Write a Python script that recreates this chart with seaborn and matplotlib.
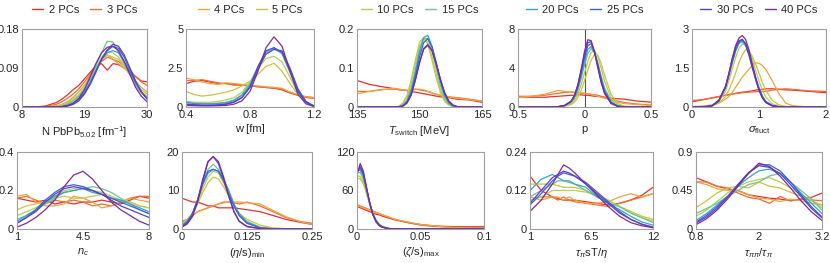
import numpy as np
import pandas as pd
import matplotlib
matplotlib.use("Agg")
import matplotlib.pyplot as plt
import seaborn as sns
from matplotlib.lines import Line2D
from matplotlib.ticker import AutoMinorLocator

# ---- data ----
pcs = ["2 PCs", "3 PCs", "4 PCs", "5 PCs", "10 PCs", "15 PCs", "20 PCs", "25 PCs", "30 PCs", "40 PCs"]
colors = ["#e5322d", "#ef6b36", "#eca53d", "#cdc241", "#b3cf55", "#6ec391",
          "#36a4c6", "#3b5fe0", "#5642c9", "#7e2aa0"]

# N PbPb
n_x = [8, 10, 12, 14, 15, 16, 17, 18, 19, 20, 21, 22, 23, 24, 25, 26, 27, 28, 29, 30]
n_y = [
    [0, 0, 0.002, 0.01, 0.018, 0.028, 0.04, 0.05, 0.065, 0.08, 0.095, 0.1, 0.085, 0.1, 0.098, 0.09, 0.08, 0.07, 0.06, 0.058],
    [0, 0, 0.001, 0.006, 0.012, 0.02, 0.03, 0.042, 0.058, 0.075, 0.09, 0.105, 0.115, 0.11, 0.105, 0.095, 0.085, 0.07, 0.058, 0.05],
    [0, 0, 0, 0.003, 0.006, 0.012, 0.022, 0.035, 0.05, 0.07, 0.09, 0.11, 0.12, 0.11, 0.1, 0.09, 0.075, 0.06, 0.045, 0.035],
    [0, 0, 0, 0.002, 0.005, 0.01, 0.02, 0.035, 0.05, 0.07, 0.09, 0.11, 0.12, 0.115, 0.11, 0.095, 0.075, 0.055, 0.04, 0.03],
    [0, 0, 0, 0.001, 0.003, 0.008, 0.016, 0.028, 0.045, 0.065, 0.09, 0.115, 0.13, 0.125, 0.115, 0.095, 0.075, 0.05, 0.035, 0.025],
    [0, 0, 0, 0, 0.002, 0.006, 0.014, 0.025, 0.042, 0.065, 0.095, 0.125, 0.152, 0.15, 0.125, 0.1, 0.075, 0.05, 0.032, 0.022],
    [0, 0, 0, 0, 0.001, 0.004, 0.01, 0.02, 0.035, 0.058, 0.085, 0.11, 0.125, 0.13, 0.125, 0.105, 0.08, 0.055, 0.035, 0.02],
    [0, 0, 0, 0, 0.001, 0.003, 0.008, 0.018, 0.032, 0.055, 0.082, 0.11, 0.13, 0.14, 0.135, 0.115, 0.085, 0.058, 0.035, 0.02],
    [0, 0, 0, 0, 0, 0.002, 0.006, 0.014, 0.03, 0.052, 0.08, 0.11, 0.132, 0.145, 0.14, 0.12, 0.09, 0.06, 0.035, 0.018],
    [0, 0, 0, 0, 0.001, 0.003, 0.008, 0.02, 0.04, 0.07, 0.1, 0.125, 0.138, 0.14, 0.13, 0.105, 0.075, 0.045, 0.025, 0.012],
]

# w
w_x = [0.4, 0.45, 0.5, 0.55, 0.6, 0.65, 0.7, 0.75, 0.8, 0.85, 0.9, 0.95, 1.0, 1.05, 1.1, 1.15, 1.2]
w_y = [
    [1.5, 1.65, 1.7, 1.6, 1.5, 1.5, 1.45, 1.4, 1.35, 1.3, 1.25, 1.2, 1.1, 0.9, 0.75, 0.65, 0.6],
    [1.7, 1.7, 1.75, 1.65, 1.55, 1.5, 1.4, 1.4, 1.35, 1.3, 1.25, 1.25, 1.15, 0.95, 0.75, 0.6, 0.55],
    [1.85, 1.75, 1.6, 1.5, 1.45, 1.55, 1.5, 1.45, 1.4, 1.35, 1.3, 1.25, 1.2, 0.95, 0.8, 0.65, 0.6],
    [1.0, 0.8, 0.7, 0.75, 0.85, 0.95, 1.1, 1.35, 1.65, 2.1, 2.6, 2.8, 2.3, 1.5, 0.8, 0.3, 0.1],
    [0.35, 0.3, 0.3, 0.3, 0.35, 0.45, 0.6, 0.95, 1.6, 2.5, 3.1, 3.25, 2.9, 1.9, 0.9, 0.3, 0.08],
    [0.35, 0.25, 0.22, 0.22, 0.25, 0.3, 0.45, 0.8, 1.5, 2.6, 3.5, 3.8, 3.4, 2.2, 1.0, 0.3, 0.05],
    [0.3, 0.22, 0.2, 0.2, 0.22, 0.28, 0.42, 0.75, 1.4, 2.5, 3.4, 3.7, 3.5, 2.4, 1.1, 0.35, 0.06],
    [0.2, 0.15, 0.12, 0.12, 0.14, 0.2, 0.33, 0.62, 1.25, 2.4, 3.4, 3.7, 3.6, 2.5, 1.15, 0.35, 0.05],
    [0.15, 0.12, 0.1, 0.1, 0.12, 0.17, 0.3, 0.6, 1.3, 2.6, 3.6, 3.8, 3.5, 2.3, 1.0, 0.3, 0.04],
    [0.1, 0.08, 0.07, 0.07, 0.08, 0.1, 0.18, 0.4, 1.0, 2.3, 3.8, 4.5, 3.9, 2.3, 0.8, 0.2, 0.03],
]

# T switch
t_x = [135, 138, 141, 144, 145, 146, 147, 148, 149, 150, 151, 152, 153, 154, 155, 156, 157, 158, 159, 162, 165]
t_y = [
    [0.068, 0.058, 0.052, 0.047, 0.045, 0.044, 0.042, 0.04, 0.038, 0.036, 0.034, 0.032, 0.03, 0.028, 0.026, 0.025, 0.024, 0.022, 0.02, 0.018, 0.012],
    [0.04, 0.04, 0.045, 0.046, 0.044, 0.043, 0.042, 0.044, 0.046, 0.044, 0.042, 0.04, 0.036, 0.033, 0.03, 0.028, 0.026, 0.025, 0.024, 0.02, 0.015],
    [0.034, 0.04, 0.044, 0.048, 0.046, 0.044, 0.043, 0.042, 0.045, 0.046, 0.044, 0.04, 0.036, 0.032, 0.03, 0.028, 0.026, 0.024, 0.022, 0.019, 0.015],
    [0, 0, 0, 0, 0.002, 0.01, 0.03, 0.07, 0.12, 0.165, 0.178, 0.16, 0.12, 0.075, 0.038, 0.015, 0.005, 0.001, 0, 0, 0],
    [0, 0, 0, 0, 0.001, 0.008, 0.025, 0.06, 0.11, 0.155, 0.175, 0.165, 0.13, 0.085, 0.045, 0.018, 0.006, 0.002, 0, 0, 0],
    [0, 0, 0, 0, 0.001, 0.005, 0.018, 0.048, 0.095, 0.145, 0.175, 0.176, 0.145, 0.1, 0.055, 0.024, 0.008, 0.002, 0, 0, 0],
    [0, 0, 0, 0, 0, 0.004, 0.015, 0.042, 0.088, 0.14, 0.178, 0.184, 0.155, 0.11, 0.065, 0.03, 0.011, 0.003, 0.001, 0, 0],
    [0, 0, 0, 0, 0, 0.003, 0.012, 0.036, 0.078, 0.128, 0.165, 0.175, 0.155, 0.115, 0.07, 0.035, 0.013, 0.004, 0.001, 0, 0],
    [0, 0, 0, 0, 0, 0.003, 0.011, 0.032, 0.07, 0.115, 0.15, 0.16, 0.145, 0.11, 0.07, 0.036, 0.015, 0.005, 0.001, 0, 0],
    [0, 0, 0, 0, 0, 0.002, 0.01, 0.03, 0.068, 0.113, 0.148, 0.158, 0.145, 0.112, 0.072, 0.038, 0.016, 0.005, 0.001, 0, 0],
]

# p
p_x = [-0.5, -0.4, -0.3, -0.2, -0.15, -0.1, -0.075, -0.05, -0.025, 0, 0.025, 0.05, 0.075, 0.1, 0.125, 0.15, 0.2, 0.25, 0.3, 0.4, 0.5]
p_y = [
    [1.05, 1.0, 1.0, 1.1, 1.15, 1.2, 1.2, 1.25, 1.25, 1.2, 1.2, 1.15, 1.1, 1.1, 1.05, 1.0, 0.9, 0.85, 0.8, 0.6, 0.5],
    [1.1, 1.1, 1.2, 1.4, 1.5, 1.55, 1.5, 1.45, 1.4, 1.4, 1.35, 1.3, 1.25, 1.2, 1.1, 1.0, 0.8, 0.6, 0.45, 0.3, 0.2],
    [1.0, 1.1, 1.3, 1.7, 1.6, 1.55, 1.5, 1.5, 1.45, 1.4, 1.35, 1.3, 1.2, 1.1, 1.0, 0.9, 0.7, 0.5, 0.35, 0.25, 0.15],
    [0, 0, 0, 0.02, 0.08, 0.25, 0.5, 0.95, 1.7, 2.7, 3.8, 4.8, 5.4, 5.3, 4.5, 3.3, 1.3, 0.35, 0.08, 0, 0],
    [0, 0, 0, 0.02, 0.1, 0.35, 0.7, 1.3, 2.3, 3.5, 4.7, 5.6, 5.8, 5.2, 4.0, 2.7, 0.9, 0.2, 0.04, 0, 0],
    [0, 0, 0, 0.03, 0.12, 0.45, 0.9, 1.7, 2.9, 4.3, 5.5, 6.0, 5.6, 4.6, 3.2, 2.0, 0.6, 0.12, 0.02, 0, 0],
    [0, 0, 0, 0.03, 0.15, 0.55, 1.05, 1.95, 3.2, 4.7, 5.9, 6.2, 5.6, 4.4, 3.0, 1.8, 0.5, 0.1, 0.02, 0, 0],
    [0, 0, 0, 0.03, 0.15, 0.6, 1.15, 2.1, 3.5, 5.1, 6.3, 6.5, 5.7, 4.3, 2.8, 1.6, 0.45, 0.08, 0.01, 0, 0],
    [0, 0, 0, 0.03, 0.15, 0.6, 1.2, 2.2, 3.7, 5.4, 6.6, 6.7, 5.7, 4.2, 2.7, 1.5, 0.4, 0.07, 0.01, 0, 0],
    [0, 0, 0, 0.03, 0.15, 0.6, 1.2, 2.3, 3.9, 5.7, 6.9, 6.8, 5.6, 4.0, 2.5, 1.4, 0.35, 0.06, 0.01, 0, 0],
]

# sigma fluct
s_x = [0, 0.1, 0.2, 0.3, 0.4, 0.5, 0.55, 0.6, 0.65, 0.7, 0.75, 0.8, 0.85, 0.9, 0.95, 1.0, 1.05, 1.1, 1.2, 1.3, 1.4, 1.5, 1.75, 2.0]
s_y = [
    [0.2, 0.25, 0.3, 0.35, 0.4, 0.45, 0.48, 0.5, 0.52, 0.55, 0.57, 0.58, 0.6, 0.62, 0.65, 0.67, 0.68, 0.7, 0.7, 0.68, 0.66, 0.65, 0.6, 0.55],
    [0.25, 0.27, 0.3, 0.35, 0.4, 0.45, 0.47, 0.5, 0.52, 0.53, 0.55, 0.56, 0.57, 0.58, 0.59, 0.6, 0.6, 0.6, 0.65, 0.68, 0.7, 0.68, 0.62, 0.6],
    [0.02, 0.03, 0.05, 0.08, 0.15, 0.3, 0.4, 0.55, 0.75, 0.95, 1.15, 1.3, 1.45, 1.6, 1.7, 1.68, 1.6, 1.45, 1.0, 0.5, 0.15, 0.05, 0, 0],
    [0.01, 0.01, 0.02, 0.05, 0.15, 0.4, 0.65, 0.95, 1.3, 1.7, 2.0, 2.2, 2.15, 1.95, 1.65, 1.3, 0.95, 0.65, 0.25, 0.08, 0.02, 0, 0, 0],
    [0.01, 0.01, 0.02, 0.05, 0.2, 0.6, 1.0, 1.45, 1.9, 2.25, 2.42, 2.4, 2.2, 1.85, 1.4, 1.0, 0.65, 0.38, 0.12, 0.03, 0, 0, 0, 0],
    [0.01, 0.01, 0.02, 0.06, 0.25, 0.75, 1.2, 1.7, 2.15, 2.45, 2.5, 2.35, 2.0, 1.55, 1.1, 0.7, 0.4, 0.2, 0.05, 0.01, 0, 0, 0, 0],
    [0.01, 0.01, 0.02, 0.06, 0.25, 0.75, 1.2, 1.7, 2.15, 2.45, 2.55, 2.4, 2.05, 1.6, 1.15, 0.75, 0.42, 0.22, 0.06, 0.01, 0, 0, 0, 0],
    [0, 0, 0.01, 0.05, 0.25, 0.78, 1.25, 1.75, 2.2, 2.5, 2.6, 2.45, 2.1, 1.6, 1.12, 0.7, 0.4, 0.2, 0.05, 0.01, 0, 0, 0, 0],
    [0, 0, 0.01, 0.05, 0.25, 0.8, 1.3, 1.85, 2.3, 2.55, 2.6, 2.4, 2.0, 1.5, 1.05, 0.65, 0.36, 0.18, 0.04, 0.01, 0, 0, 0, 0],
    [0, 0, 0.01, 0.04, 0.22, 0.75, 1.25, 1.85, 2.35, 2.65, 2.75, 2.6, 2.2, 1.65, 1.1, 0.65, 0.35, 0.17, 0.04, 0.01, 0, 0, 0, 0],
]

# n_c
nc_x = [1, 1.5, 2, 2.5, 3, 3.5, 4, 4.5, 5, 5.5, 6, 6.5, 7, 7.5, 8]
nc_y = [
    [0.16, 0.15, 0.14, 0.15, 0.13, 0.14, 0.13, 0.14, 0.14, 0.15, 0.14, 0.13, 0.15, 0.17, 0.16],
    [0.16, 0.17, 0.15, 0.13, 0.15, 0.14, 0.15, 0.14, 0.12, 0.13, 0.12, 0.14, 0.16, 0.17, 0.17],
    [0.17, 0.18, 0.14, 0.12, 0.12, 0.13, 0.17, 0.16, 0.14, 0.11, 0.12, 0.14, 0.16, 0.15, 0.14],
    [0.1, 0.12, 0.13, 0.14, 0.16, 0.17, 0.16, 0.16, 0.17, 0.18, 0.16, 0.14, 0.14, 0.12, 0.11],
    [0.07, 0.09, 0.11, 0.14, 0.17, 0.2, 0.21, 0.22, 0.2, 0.19, 0.17, 0.15, 0.14, 0.12, 0.11],
    [0.05, 0.07, 0.1, 0.13, 0.16, 0.19, 0.2, 0.21, 0.22, 0.21, 0.19, 0.16, 0.13, 0.1, 0.08],
    [0.04, 0.07, 0.1, 0.14, 0.17, 0.19, 0.2, 0.21, 0.19, 0.18, 0.16, 0.15, 0.13, 0.11, 0.09],
    [0.03, 0.06, 0.1, 0.15, 0.19, 0.22, 0.23, 0.22, 0.2, 0.18, 0.16, 0.14, 0.12, 0.1, 0.08],
    [0.03, 0.06, 0.09, 0.14, 0.18, 0.21, 0.22, 0.21, 0.2, 0.18, 0.15, 0.12, 0.1, 0.08, 0.06],
    [0.01, 0.03, 0.06, 0.1, 0.15, 0.22, 0.28, 0.3, 0.26, 0.2, 0.14, 0.1, 0.07, 0.04, 0.02],
]

# (eta/s)min
eta_x = [0, 0.01, 0.02, 0.03, 0.04, 0.05, 0.06, 0.07, 0.08, 0.09, 0.1, 0.11, 0.125, 0.15, 0.175, 0.2, 0.225, 0.25]
eta_y = [
    [8, 7.5, 7, 7, 6.5, 6, 6, 5.5, 5.5, 5.5, 5.5, 5.3, 5, 4.5, 3.5, 2.5, 1.8, 1.2],
    [2, 2.5, 3.5, 4.5, 5, 5.5, 6, 6.5, 7, 7, 6.8, 6.5, 7, 6, 4.5, 3, 2, 1.5],
    [1.5, 2.5, 3.5, 4.5, 5, 5.5, 6, 6.5, 6.8, 7, 7, 7, 6.8, 6.5, 4.8, 3.2, 2, 1.2],
    [1.5, 2.5, 4, 6.5, 9.5, 12, 13.5, 13, 11, 8.5, 6, 4, 2.5, 1, 0.3, 0.1, 0, 0],
    [1.2, 2.2, 4, 7, 10.5, 13.5, 15, 14.5, 12, 9, 6, 3.5, 2, 0.5, 0.1, 0, 0, 0],
    [1, 2, 4, 7.5, 12, 15.5, 16.8, 15.5, 13, 9.5, 6, 3.5, 1.5, 0.3, 0.05, 0, 0, 0],
    [1, 2, 4, 7.5, 11.5, 14.5, 15.5, 15, 13, 10, 6.5, 4, 1.8, 0.4, 0.05, 0, 0, 0],
    [0.8, 1.8, 4, 7.5, 12, 15, 15.5, 15, 12.5, 9, 6, 3.5, 1.5, 0.3, 0.03, 0, 0, 0],
    [0.6, 1.5, 3.5, 7.5, 13, 17.5, 18.8, 17, 13, 8.5, 4.5, 2, 0.7, 0.1, 0, 0, 0, 0],
    [0.5, 1.3, 3.2, 7, 12.5, 17.5, 18.8, 17.5, 13.5, 8.5, 4.5, 2, 0.6, 0.1, 0, 0, 0, 0],
]

# (zeta/s)max
zeta_x = [0, 0.0025, 0.005, 0.0075, 0.01, 0.0125, 0.015, 0.0175, 0.02, 0.025, 0.03, 0.04, 0.05, 0.06, 0.07, 0.08, 0.09, 0.1]
zeta_y = [
    [35, 33, 31, 29, 27, 25, 23, 22, 20, 17, 14, 10, 7, 5, 4, 3.5, 3.5, 3.5],
    [38, 36, 34, 32, 30, 28, 26, 24, 22, 18, 15, 10, 6, 4, 3, 2.5, 2, 2],
    [36, 35, 33, 31, 29, 27, 25, 24, 22, 19, 15, 11, 7, 5, 3, 2, 1.5, 1],
    [80, 78, 70, 55, 38, 24, 14, 8, 4, 1, 0.3, 0, 0, 0, 0, 0, 0, 0],
    [83, 82, 73, 57, 39, 24, 14, 8, 4, 1, 0.3, 0, 0, 0, 0, 0, 0, 0],
    [87, 88, 78, 60, 40, 24, 13, 7, 3.5, 0.8, 0.2, 0, 0, 0, 0, 0, 0, 0],
    [90, 92, 82, 62, 41, 24, 13, 7, 3.5, 0.8, 0.2, 0, 0, 0, 0, 0, 0, 0],
    [88, 95, 85, 63, 41, 23, 12, 6, 3, 0.7, 0.1, 0, 0, 0, 0, 0, 0, 0],
    [90, 97, 87, 64, 41, 23, 12, 6, 3, 0.6, 0.1, 0, 0, 0, 0, 0, 0, 0],
    [85, 102, 90, 65, 40, 22, 11, 5, 2.5, 0.5, 0.1, 0, 0, 0, 0, 0, 0, 0],
]

# tau_pi sT/eta
tau_x = [1, 2, 3, 3.5, 4, 4.5, 5, 6, 7, 8, 9, 10, 11, 12]
tau_y = [
    [0.165, 0.12, 0.1, 0.095, 0.09, 0.09, 0.09, 0.085, 0.08, 0.075, 0.08, 0.09, 0.105, 0.13],
    [0.09, 0.1, 0.1, 0.09, 0.1, 0.09, 0.085, 0.08, 0.075, 0.07, 0.08, 0.09, 0.1, 0.11],
    [0.1, 0.09, 0.1, 0.1, 0.09, 0.1, 0.09, 0.08, 0.08, 0.085, 0.1, 0.11, 0.1, 0.11],
    [0.14, 0.14, 0.14, 0.135, 0.13, 0.13, 0.13, 0.12, 0.1, 0.09, 0.07, 0.055, 0.04, 0.03],
    [0.09, 0.1, 0.12, 0.12, 0.12, 0.12, 0.12, 0.115, 0.105, 0.09, 0.07, 0.05, 0.035, 0.025],
    [0.1, 0.12, 0.14, 0.15, 0.15, 0.145, 0.14, 0.12, 0.1, 0.08, 0.07, 0.05, 0.035, 0.02],
    [0.12, 0.155, 0.17, 0.16, 0.15, 0.15, 0.14, 0.13, 0.1, 0.08, 0.06, 0.04, 0.022, 0.012],
    [0.075, 0.11, 0.15, 0.165, 0.175, 0.17, 0.165, 0.145, 0.115, 0.085, 0.055, 0.03, 0.015, 0.005],
    [0.08, 0.12, 0.16, 0.17, 0.18, 0.175, 0.165, 0.14, 0.11, 0.08, 0.05, 0.03, 0.015, 0.006],
    [0.055, 0.09, 0.14, 0.17, 0.2, 0.19, 0.175, 0.14, 0.105, 0.07, 0.04, 0.02, 0.01, 0.004],
]

# tau_pipi / tau_pi
tpp_x = [0.8, 1.0, 1.2, 1.4, 1.6, 1.8, 2.0, 2.2, 2.4, 2.6, 2.8, 3.0, 3.2]
tpp_y = [
    [0.6, 0.55, 0.5, 0.47, 0.45, 0.4, 0.38, 0.36, 0.35, 0.33, 0.35, 0.37, 0.42],
    [0.55, 0.55, 0.5, 0.48, 0.42, 0.37, 0.35, 0.3, 0.38, 0.33, 0.35, 0.34, 0.33],
    [0.55, 0.52, 0.47, 0.45, 0.45, 0.4, 0.36, 0.35, 0.32, 0.35, 0.33, 0.3, 0.28],
    [0.25, 0.33, 0.42, 0.48, 0.5, 0.48, 0.55, 0.5, 0.48, 0.43, 0.38, 0.33, 0.28],
    [0.15, 0.22, 0.32, 0.42, 0.5, 0.55, 0.58, 0.6, 0.55, 0.48, 0.4, 0.33, 0.25],
    [0.18, 0.24, 0.3, 0.38, 0.45, 0.52, 0.55, 0.62, 0.65, 0.55, 0.45, 0.35, 0.22],
    [0.1, 0.18, 0.28, 0.38, 0.5, 0.6, 0.68, 0.7, 0.65, 0.55, 0.42, 0.3, 0.18],
    [0.08, 0.16, 0.26, 0.38, 0.52, 0.65, 0.75, 0.75, 0.68, 0.55, 0.4, 0.26, 0.14],
    [0.07, 0.14, 0.24, 0.37, 0.52, 0.66, 0.74, 0.72, 0.65, 0.52, 0.38, 0.24, 0.13],
    [0.05, 0.12, 0.22, 0.35, 0.5, 0.65, 0.77, 0.73, 0.62, 0.48, 0.33, 0.2, 0.1],
]

xlabels = [r"N PbPb$_{5.02}$ [fm$^{-1}$]", "w [fm]", r"$T_{\mathrm{switch}}$ [MeV]", "p",
           r"$\sigma_{\mathrm{fluct}}$", r"$n_c$", r"$(\eta/\mathrm{s})_{\mathrm{min}}$",
           r"$(\zeta/\mathrm{s})_{\mathrm{max}}$", r"$\tau_\pi\mathrm{sT}/\eta$",
           r"$\tau_{\pi\pi}/\tau_\pi$"]
xticks = [[8, 19, 30], [0.4, 0.8, 1.2], [135, 150, 165], [-0.5, 0, 0.5], [0, 1, 2],
          [1, 4.5, 8], [0, 0.125, 0.25], [0, 0.05, 0.1], [1, 6.5, 12], [0.8, 2, 3.2]]
xticklabels = [["8", "19", "30"], ["0.4", "0.8", "1.2"], ["135", "150", "165"],
               ["-0.5", "0", "0.5"], ["0", "1", "2"], ["1", "4.5", "8"],
               ["0", "0.125", "0.25"], ["0", "0.05", "0.1"], ["1", "6.5", "12"],
               ["0.8", "2", "3.2"]]
yticks = [[0, 0.09, 0.18], [0, 2.5, 5], [0, 0.1, 0.2], [0, 4, 8], [0, 1.5, 3],
          [0, 0.2, 0.4], [0, 10, 20], [0, 60, 120], [0, 0.12, 0.24], [0, 0.45, 0.9]]
yticklabels = [["0", "0.09", "0.18"], ["0", "2.5", "5"], ["0", "0.1", "0.2"], ["0", "4", "8"],
               ["0", "1.5", "3"], ["0", "0.2", "0.4"], ["0", "10", "20"], ["0", "60", "120"],
               ["0", "0.12", "0.24"], ["0", "0.45", "0.9"]]

panels = [(n_x, n_y), (w_x, w_y), (t_x, t_y), (p_x, p_y), (s_x, s_y),
          (nc_x, nc_y), (eta_x, eta_y), (zeta_x, zeta_y), (tau_x, tau_y), (tpp_x, tpp_y)]

# ---- style ----
sns.set_style("white")
plt.rcParams["font.family"] = ["Liberation Sans", "DejaVu Sans"]
plt.rcParams["mathtext.fontset"] = "custom"
plt.rcParams["mathtext.rm"] = "Liberation Sans"
plt.rcParams["mathtext.it"] = "Liberation Sans:italic"
plt.rcParams["mathtext.bf"] = "Liberation Sans:bold"

W, H = 830, 263
fig = plt.figure(figsize=(W / 100, H / 100), dpi=100)

# axes boxes in pixels: left, right, top, bottom
boxes = [(22, 147, 29, 107), (186, 314, 29, 107), (357, 482, 29, 107), (518, 651, 29, 107), (692, 826, 29, 107),
         (17, 149, 152, 229), (182, 312, 152, 229), (357, 484, 152, 229), (530, 653, 152, 229), (696, 822, 152, 229)]

palette = dict(zip(pcs, colors))

for i, ((xs, ys), (l, r, t, b)) in enumerate(zip(panels, boxes)):
    ax = fig.add_axes([l / W, (H - b) / H, (r - l) / W, (b - t) / H])
    df = pd.DataFrame({
        "x": np.tile(xs, len(pcs)),
        "y": np.concatenate(ys),
        "pcs": np.repeat(pcs, len(xs)),
    })
    if i == 3:
        ax.axvline(0, color="#555555", lw=0.8, zorder=0)
    sns.lineplot(data=df, x="x", y="y", hue="pcs", hue_order=pcs, palette=palette,
                 estimator=None, legend=False, lw=0.9, ax=ax)
    ax.set_xlim(xticks[i][0], xticks[i][-1])
    ax.set_ylim(yticks[i][0], yticks[i][-1])
    ax.set_xticks(xticks[i])
    ax.set_xticklabels(xticklabels[i])
    ax.set_yticks(yticks[i])
    ax.set_yticklabels(yticklabels[i])
    ax.xaxis.set_minor_locator(AutoMinorLocator(4))
    ax.yaxis.set_minor_locator(AutoMinorLocator(2))
    ax.tick_params(which="both", direction="in", color="#999999", labelsize=8, pad=2)
    ax.tick_params(which="major", length=3.5, width=0.6)
    ax.tick_params(which="minor", length=2, width=0.5)
    ax.set_xlabel(xlabels[i], fontsize=8, labelpad=3)
    ax.set_ylabel("")
    for sp in ax.spines.values():
        sp.set_color("#a0a0a0")
        sp.set_linewidth(0.8)
    if i < 5:
        handles = [Line2D([], [], color=colors[2 * i + k], lw=1) for k in range(2)]
        ax.legend(handles, pcs[2 * i:2 * i + 2], loc="center", bbox_to_anchor=(0.5, 1.24),
                  ncol=2, frameon=False, fontsize=8, handlelength=1.0, handletextpad=0.5,
                  columnspacing=1.0, borderaxespad=0, borderpad=0)

fig.savefig("out.png", dpi=100)
